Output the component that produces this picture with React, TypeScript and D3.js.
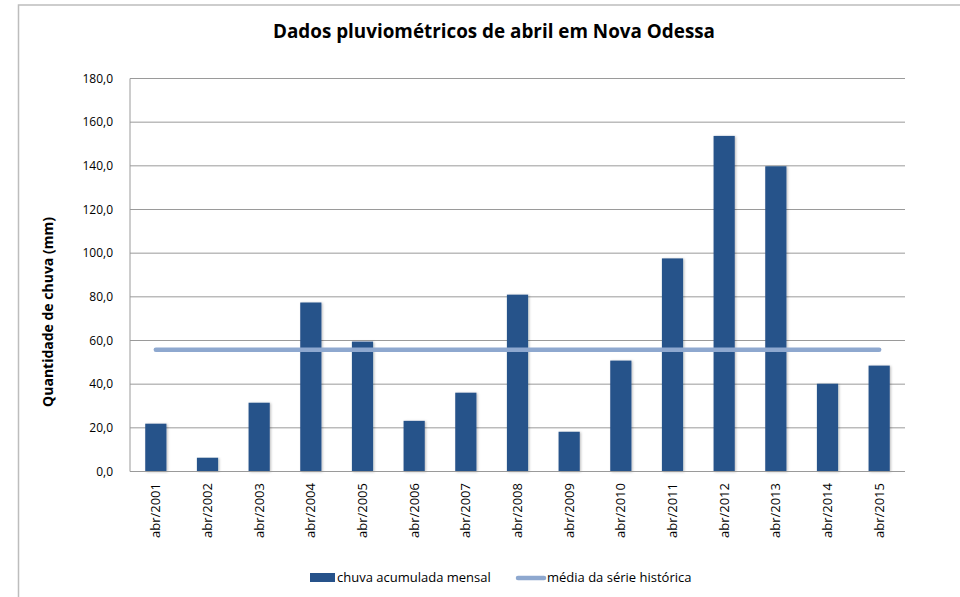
import React from "react";
import * as d3 from "d3";

const categories = ["abr/2001","abr/2002","abr/2003","abr/2004","abr/2005","abr/2006","abr/2007","abr/2008","abr/2009","abr/2010","abr/2011","abr/2012","abr/2013","abr/2014","abr/2015"];
const rainfall = [21.9, 6.3, 31.5, 77.4, 59.5, 23.2, 36.1, 81.0, 18.2, 50.8, 97.6, 153.7, 139.8, 40.2, 48.5];
const historicalMean = 55.8;
const yTicks = [0, 20, 40, 60, 80, 100, 120, 140, 160, 180];

const W = 960, H = 597;
const plot = { left: 130, right: 905, top: 78.5, bottom: 471.5 };
const barColor = "#26528A";
const lineColor = "#8EA8CF";
const font = "'Open Sans', sans-serif";

export default function App() {
  const x = d3.scaleBand<string>().domain(categories).range([plot.left, plot.right]).paddingInner(0.59).paddingOuter(0.295);
  const y = d3.scaleLinear().domain([0, 180]).range([plot.bottom, plot.top]);
  const fmt = (v: number) => v.toFixed(1).replace(".", ",");
  const cx = (c: string) => (x(c) as number) + x.bandwidth() / 2;
  const meanLine = d3.line<string>().x(c => cx(c)).y(() => y(historicalMean));

  return (
    <svg width={W} height={H} style={{ position: "absolute", left: 0, top: 0, background: "#fff" }}>
      <defs>
        <filter id="sh" x="-20%" y="-5%" width="150%" height="110%">
          <feDropShadow dx="1.2" dy="0.5" stdDeviation="0.8" floodColor="#000" floodOpacity="0.25" />
        </filter>
      </defs>
      <rect x={0} y={0} width={W} height={H} fill="#fff" />
      {/* chart border */}
      <path d={`M18.5,${H} L18.5,5 L${W},5`} fill="none" stroke="#bdbdbd" strokeWidth={1.5} />
      <text x={494} y={38} textAnchor="middle" fontFamily={font} fontWeight="bold" fontSize={19} fill="#000" textLength={442} lengthAdjust="spacingAndGlyphs">
        Dados pluviométricos de abril em Nova Odessa
      </text>
      {/* gridlines */}
      {yTicks.map(t => (
        <line key={t} x1={plot.left} x2={plot.right} y1={y(t)} y2={y(t)} stroke="#9a9a9a" strokeWidth={1} />
      ))}
      {yTicks.map(t => (
        <text key={"l" + t} x={113} y={y(t) + 4} textAnchor="end" fontFamily={font} fontSize={12} fill="#000">
          {fmt(t)}
        </text>
      ))}
      <line x1={plot.left} x2={plot.left} y1={plot.top} y2={plot.bottom} stroke="#9a9a9a" strokeWidth={1} />
      <text transform={`translate(53,312) rotate(-90)`} textAnchor="middle" fontFamily={font} fontWeight="bold" fontSize={14} fill="#000">
        Quantidade de chuva (mm)
      </text>
      {/* bars */}
      {categories.map((c, i) => (
        <rect key={c} x={x(c)} y={y(rainfall[i])} width={x.bandwidth()} height={plot.bottom - y(rainfall[i])} fill={barColor} filter="url(#sh)" />
      ))}
      <line x1={plot.left} x2={plot.right} y1={plot.bottom} y2={plot.bottom} stroke="#9a9a9a" strokeWidth={1} />
      {/* mean line */}
      <path d={meanLine(categories) as string} fill="none" stroke={lineColor} strokeWidth={4.5} strokeLinecap="round" />
      {/* x labels */}
      {categories.map(c => (
        <text key={"x" + c} transform={`translate(${cx(c) + 4.5},483) rotate(-90)`} textAnchor="end" fontFamily={font} fontSize={13} fill="#000">
          {c}
        </text>
      ))}
      {/* legend */}
      <rect x={310} y={573} width={25} height={9} fill={barColor} />
      <text x={337} y={582} fontFamily={font} fontSize={13} fill="#000">chuva acumulada mensal</text>
      <line x1={518} x2={544} y1={578} y2={578} stroke={lineColor} strokeWidth={4.5} strokeLinecap="round" />
      <text x={547} y={582} fontFamily={font} fontSize={13} fill="#000">média da série histórica</text>
    </svg>
  );
}
